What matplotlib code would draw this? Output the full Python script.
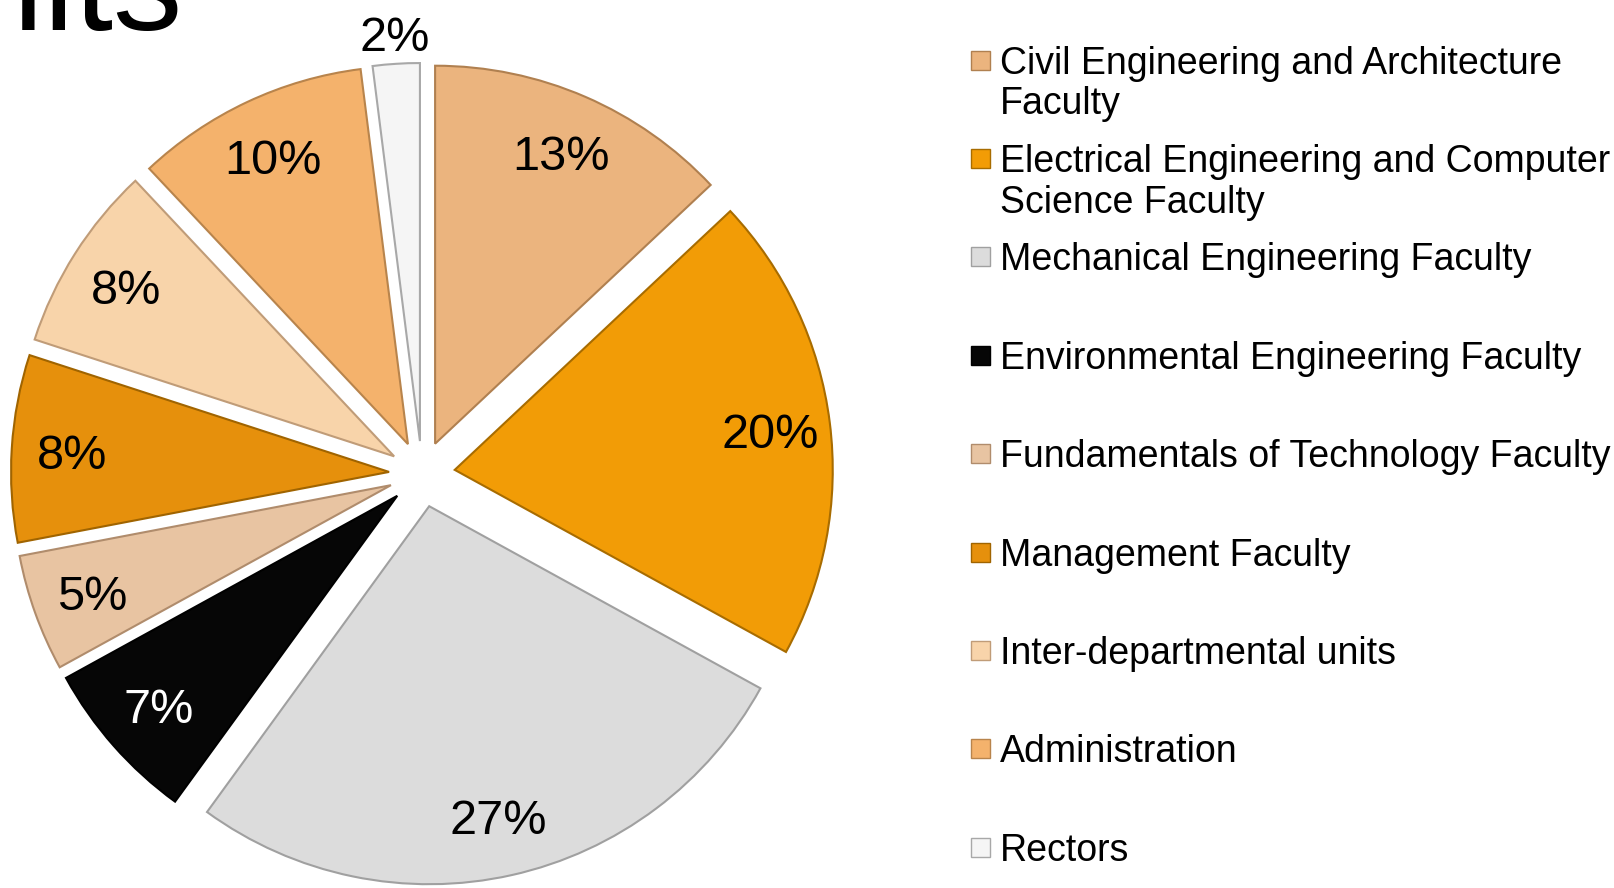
import numpy as np
import matplotlib
matplotlib.use('Agg')
import matplotlib.pyplot as plt
from matplotlib.patches import Rectangle

plt.rcParams['font.family'] = ['Liberation Sans', 'DejaVu Sans']

# data
units = ['Civil Engineering and Architecture\nFaculty',
         'Electrical Engineering and Computer\nScience Faculty',
         'Mechanical Engineering Faculty',
         'Environmental Engineering Faculty',
         'Fundamentals of Technology Faculty',
         'Management Faculty',
         'Inter-departmental units',
         'Administration',
         'Rectors']
shares = [13, 20, 27, 7, 5, 8, 8, 10, 2]
colors = ['#EBB47E', '#F29C06', '#DCDCDC', '#060606', '#E8C4A2',
          '#E6900C', '#F8D4AA', '#F4B26C', '#F5F5F5']
edges = ['#B08050', '#A86C00', '#A0A0A0', '#000000', '#B08C6C',
         '#A06400', '#C09C78', '#B8844C', '#A8A8A8']

W, H = 1614, 888
fig = plt.figure(figsize=(W/100, H/100), dpi=100)
ax = fig.add_axes([0, 0, 1, 1])

cx, cy, r = 422, H - 474, 378
wedges, texts, autotexts = ax.pie(shares, colors=colors, startangle=90, counterclock=False,
                                  explode=[33]*len(shares), center=(cx, cy), radius=r,
                                  autopct='%1.0f%%', pctdistance=0.84,
                                  wedgeprops=dict(linewidth=1.5),
                                  textprops=dict(fontsize=35, color='black'))
for w, ec in zip(wedges, edges):
    w.set_edgecolor(ec)
autotexts[3].set_color('white')

# the small slice keeps its label outside
w = wedges[8]
th = np.deg2rad((w.theta1 + w.theta2) / 2)
autotexts[8].set_position((w.center[0] + 1.08*r*np.cos(th), w.center[1] + 1.08*r*np.sin(th)))
for t in autotexts:
    x, y = t.get_position()
    t.set_position((x, y - 5))

ax.set_xlim(0, W)
ax.set_ylim(0, H)
ax.set_aspect('equal')
ax.axis('off')

# legend
for i, (lab, c, ec) in enumerate(zip(units, colors, edges)):
    yc = H - (60 + i*98.4)
    ax.add_patch(Rectangle((971, yc - 9.5), 19, 19, facecolor=c, edgecolor=ec, linewidth=1))
    ax.text(1000, yc + 14.5, lab, fontsize=27, va='top', ha='left', linespacing=1.17)

# slide title, cut off by the top edge
ax.text(183, H - 30, 'Units', fontsize=100, ha='right', va='baseline')

fig.savefig('out.png', dpi=100)
